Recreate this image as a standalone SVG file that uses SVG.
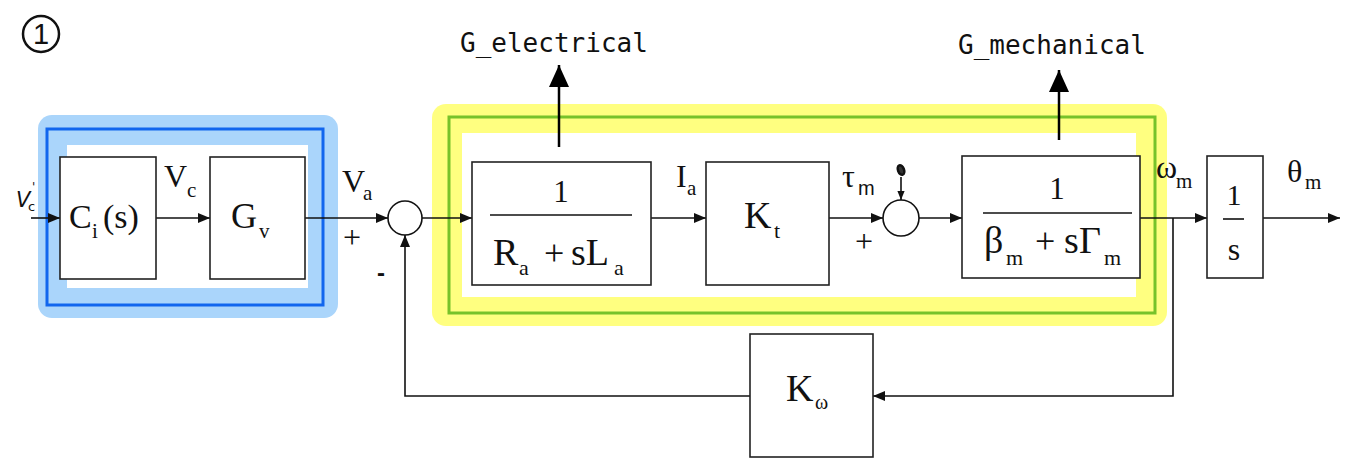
<svg xmlns="http://www.w3.org/2000/svg" width="1364" height="465" viewBox="0 0 1364 465">
<defs>
<style>
.m{font-family:"Liberation Serif","Times New Roman",serif;fill:#111}
.mono{font-family:"DejaVu Sans Mono","Liberation Mono",monospace;font-size:26px;fill:#111}
.box{fill:#fff;stroke:#222;stroke-width:1.6}
.ln{fill:none;stroke:#111;stroke-width:1.6}
.sum{fill:#fff;stroke:#111;stroke-width:1.6}
</style>
<marker id="ah" viewBox="0 0 12 10" refX="12" refY="5" markerWidth="12" markerHeight="10" markerUnits="userSpaceOnUse" orient="auto">
<path d="M0,0 L12,5 L0,10 z" fill="#111"/>
</marker>
<marker id="ahs" viewBox="0 0 10 8" refX="10" refY="4" markerWidth="9" markerHeight="8" markerUnits="userSpaceOnUse" orient="auto">
<path d="M0,0 L10,4 L0,8 z" fill="#111"/>
</marker>
<marker id="ahb" viewBox="0 0 22 20" refX="22" refY="10" markerWidth="22" markerHeight="20" markerUnits="userSpaceOnUse" orient="auto">
<path d="M0,0 L22,10 L0,20 z" fill="#000"/>
</marker>
</defs>
<rect width="1364" height="465" fill="#fff"/>

<g id="label-1">
<circle cx="41" cy="34" r="18" fill="none" stroke="#111" stroke-width="2.5"/>
<text x="41" y="44" text-anchor="middle" style="font-family:'Liberation Sans',sans-serif;font-size:29px;fill:#111">1</text>
</g>

<g id="highlight-blue">
<rect x="38" y="115" width="300" height="203" rx="14" fill="#aad5fb"/>
<rect x="47" y="129" width="276" height="176" fill="none" stroke="#1166ee" stroke-width="3"/>
<rect x="67" y="145" width="241" height="143" fill="#fff"/>
</g>

<g id="highlight-yellow">
<rect x="432" y="104" width="735" height="222" rx="14" fill="#ffff80"/>
<rect x="449" y="117" width="706" height="196" fill="none" stroke="#77c22a" stroke-width="3"/>
<rect x="462" y="133" width="674" height="164" fill="#fff"/>
</g>

<g id="connectors">
<line class="ln" x1="31" y1="218" x2="60" y2="218" marker-end="url(#ah)"/>
<line class="ln" x1="156" y1="218" x2="210" y2="218" marker-end="url(#ah)"/>
<line class="ln" x1="305" y1="218" x2="388" y2="218" marker-end="url(#ah)"/>
<line class="ln" x1="422" y1="218" x2="472" y2="218" marker-end="url(#ah)"/>
<line class="ln" x1="651" y1="218" x2="706" y2="218" marker-end="url(#ah)"/>
<line class="ln" x1="829" y1="218" x2="883" y2="218" marker-end="url(#ah)"/>
<line class="ln" x1="919" y1="218" x2="962" y2="218" marker-end="url(#ah)"/>
<line class="ln" x1="1140" y1="218" x2="1207" y2="218" marker-end="url(#ah)"/>
<line class="ln" x1="1263" y1="218" x2="1340" y2="218" marker-end="url(#ah)"/>
<polyline class="ln" points="1173,218 1173,396 873,396" marker-end="url(#ah)"/>
<polyline class="ln" points="750,396 405,396 405,235" marker-end="url(#ah)"/>
<line class="ln" x1="901" y1="177" x2="901" y2="200" marker-end="url(#ahs)"/>
<line x1="559" y1="147" x2="559" y2="65" stroke="#000" stroke-width="2.5" marker-end="url(#ahb)"/>
<line x1="1059" y1="140" x2="1059" y2="70" stroke="#000" stroke-width="2.5" marker-end="url(#ahb)"/>
</g>

<g id="input-label">
<text x="16" y="207" style="font-family:'DejaVu Sans',sans-serif;font-size:21px;fill:#111;font-style:italic">V</text>
<text x="28" y="211" style="font-family:'DejaVu Sans',sans-serif;font-size:13px;fill:#111">c</text>
<text x="32" y="191" style="font-family:'DejaVu Sans',sans-serif;font-size:12px;fill:#111">'</text>
</g>

<g id="node-Ci">
<rect class="box" x="60" y="157" width="96" height="122"/>
<text class="m" x="69" y="228" font-size="34">C</text>
<text class="m" x="92" y="238" font-size="21">i</text>
<text class="m" x="103" y="228" font-size="34">(s)</text>
</g>
<text class="m" x="164" y="187" font-size="32">V</text>
<text class="m" x="187" y="197" font-size="21">c</text>

<g id="node-Gv">
<rect class="box" x="210" y="157" width="95" height="122"/>
<text class="m" x="231" y="228" font-size="36">G</text>
<text class="m" x="259" y="238" font-size="21">v</text>
</g>
<text class="m" x="342" y="192" font-size="32">V</text>
<text class="m" x="363" y="200" font-size="21">a</text>
<text class="m" x="352" y="248" font-size="32" text-anchor="middle">+</text>
<text x="381" y="281" text-anchor="middle" style="font-family:'Liberation Sans',sans-serif;font-size:24px;font-weight:bold;fill:#111">-</text>

<g id="sum-1">
<circle class="sum" cx="405" cy="218" r="17"/>
</g>

<g id="node-electrical">
<rect class="box" x="472" y="162" width="179" height="123"/>
<text class="m" x="561" y="202" font-size="31" text-anchor="middle">1</text>
<line x1="490" y1="215" x2="632" y2="215" stroke="#111" stroke-width="1.6"/>
<text class="m" x="493" y="265" font-size="38">R</text>
<text class="m" x="519" y="275" font-size="22">a</text>
<text class="m" x="544" y="265" font-size="36">+</text>
<text class="m" x="571" y="265" font-size="38">sL</text>
<text class="m" x="614" y="275" font-size="22">a</text>
</g>
<text class="mono" x="460" y="52">G_electrical</text>
<text class="m" x="676" y="187" font-size="32">I</text>
<text class="m" x="687" y="195" font-size="21">a</text>

<g id="node-Kt">
<rect class="box" x="706" y="162" width="123" height="123"/>
<text class="m" x="744" y="228" font-size="38">K</text>
<text class="m" x="774" y="238" font-size="22">t</text>
</g>
<text class="m" x="842" y="187" font-size="32">τ</text>
<text x="858" y="195" style="font-family:'Liberation Sans',sans-serif;font-size:20px;fill:#111">m</text>
<text class="m" x="864" y="252" font-size="32" text-anchor="middle">+</text>

<g id="sum-2">
<circle class="sum" cx="901" cy="218" r="18"/>
<ellipse cx="901" cy="170" rx="3" ry="5" fill="#333" stroke="#111" stroke-width="2.5" transform="rotate(-20 901 170)"/>
</g>

<g id="node-mechanical">
<rect class="box" x="962" y="156" width="178" height="122"/>
<text class="m" x="1057" y="199" font-size="31" text-anchor="middle">1</text>
<line x1="983" y1="213" x2="1132" y2="213" stroke="#111" stroke-width="1.6"/>
<text class="m" x="984" y="253" font-size="38">β</text>
<text class="m" x="1006" y="265" font-size="22">m</text>
<text class="m" x="1035" y="253" font-size="36">+</text>
<text class="m" x="1064" y="253" font-size="38">s</text>
<text class="m" x="1079" y="253" font-size="38">Γ</text>
<text class="m" x="1104" y="265" font-size="22">m</text>
</g>
<text class="mono" x="958" y="54">G_mechanical</text>
<text class="m" x="1156" y="178" font-size="32">ω</text>
<text class="m" x="1176" y="188" font-size="21">m</text>

<g id="node-integrator">
<rect class="box" x="1207" y="156" width="56" height="122"/>
<text class="m" x="1234" y="205" font-size="30" text-anchor="middle">1</text>
<line x1="1223" y1="219" x2="1244" y2="219" stroke="#111" stroke-width="1.6"/>
<text class="m" x="1234" y="260" font-size="32" text-anchor="middle">s</text>
</g>
<text class="m" x="1287" y="182" font-size="32">θ</text>
<text class="m" x="1305" y="189" font-size="21">m</text>

<g id="node-Kw">
<rect class="box" x="750" y="334" width="123" height="123"/>
<text class="m" x="786" y="401" font-size="38">K</text>
<text class="m" x="815" y="409" font-size="20">ω</text>
</g>
</svg>
